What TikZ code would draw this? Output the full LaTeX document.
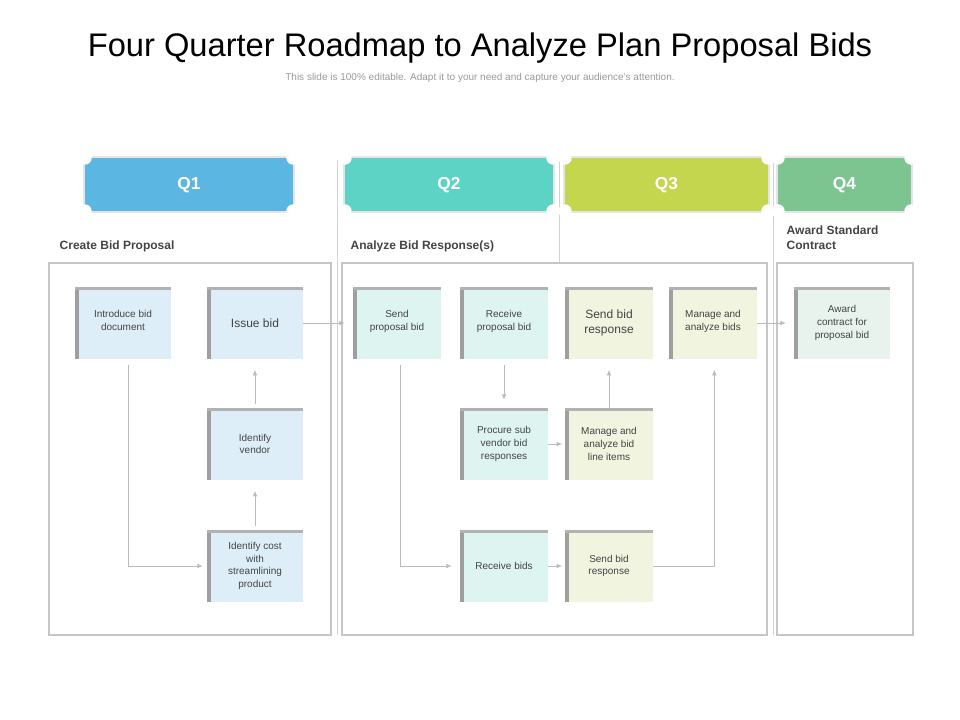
\documentclass[tikz,border=0pt]{standalone}
\usepackage{fontspec}
\setmainfont{Liberation Sans}
\usepackage{tikz}
\definecolor{qone}{HTML}{5BB7E2}
\definecolor{qtwo}{HTML}{5DD3C5}
\definecolor{qthree}{HTML}{C3D64E}
\definecolor{qfour}{HTML}{7DC590}
\definecolor{bone}{HTML}{DDEEF8}
\definecolor{btwo}{HTML}{DDF4F1}
\definecolor{bthree}{HTML}{F1F4DF}
\definecolor{bfour}{HTML}{E7F3EC}
\definecolor{txt}{HTML}{444444}
\definecolor{wire}{HTML}{BBBBBB}
\tikzset{
  task/.style={fill=#1, minimum width=72pt, minimum height=54pt, inner sep=2pt,
    align=center, font=\fontsize{7.5}{9.5}\selectfont, text=txt,
    path picture={
      \fill[gray!75] (path picture bounding box.north west) rectangle
        ([xshift=3pt]path picture bounding box.south west);
      \fill[gray!60] (path picture bounding box.north west) rectangle
        ([yshift=-2pt]path picture bounding box.north east);}},
  narrow/.style={minimum width=66pt},
  big/.style={font=\fontsize{9}{11}\selectfont},
  panel/.style={draw=gray!45, line width=0.8pt, fill=white},
  sect/.style={font=\bfseries\fontsize{9}{11}\selectfont, text=txt, anchor=west, align=left},
  link/.style={draw=wire, line width=0.6pt, -{Latex[length=4pt,width=3.5pt]}},
}
\usetikzlibrary{arrows.meta}
\newcommand{\qtab}[4]{% x1, x2, colour, label
  \fill[gray!20] (#1-2,156) rectangle (#2+2,213);
  \fill[#3] (#1,158) rectangle (#2,211);
  \foreach \cx/\cy in {#1/158,#2/158,#1/211,#2/211}
    \fill[white] (\cx,\cy) circle (5pt);
  \node[text=white, font=\bfseries\fontsize{13}{15}\selectfont] (#4) at ({(#1+#2)/2},185) {#4};
}
\begin{document}
\begin{tikzpicture}[x=0.75pt, y=-0.75pt]
\useasboundingbox (0,0) rectangle (960,720);
% title
\node (title) at (480,48) {\fontsize{24.5}{28}\selectfont Four Quarter Roadmap to Analyze Plan Proposal Bids};
\node[text=gray!80, font=\fontsize{7.5}{9}\selectfont] (sub) at (480,78)
  {This slide is 100\% editable. Adapt it to your need and capture your audience’s attention.};
% separators
\foreach \x in {337,559,773} \draw[gray!35, line width=0.6pt] (\x,160) -- (\x,635);
% quarter tabs
\qtab{85}{293}{qone}{Q1}
\qtab{345}{553}{qtwo}{Q2}
\qtab{565}{768}{qthree}{Q3}
\qtab{778}{911}{qfour}{Q4}
% section labels
\node[sect] (s1) at (55,246) {Create Bid Proposal};
\node[sect] (s2) at (346,246) {Analyze Bid Response(s)};
\node[sect] (s4) at (782,238) {Award Standard\\Contract};
% panels
\draw[panel] (49,263) rectangle (331,635);
\draw[panel] (342,263) rectangle (767,635);
\draw[panel] (777,263) rectangle (913,635);
% Q1
\node[task=bone] (intro) at (123,323) {Introduce bid\\document\\[-6pt]};
\node[task=bone, big] (issue) at (255,323) {Issue bid};
\node[task=bone] (vendor) at (255,444) {Identify\\vendor};
\node[task=bone] (cost) at (255,566) {Identify cost\\with\\streamlining\\product};
% Q2
\node[task=btwo, narrow] (sendprop) at (397,323) {Send\\proposal bid\\[-6pt]};
\node[task=btwo, narrow] (recvprop) at (504,323) {Receive\\proposal bid\\[-6pt]};
\node[task=btwo, narrow] (procure) at (504,444) {Procure sub\\vendor bid\\responses};
\node[task=btwo, narrow] (recvbids) at (504,566) {Receive bids};
% Q3
\node[task=bthree, narrow, big] (sendresp) at (609,323) {Send bid\\response};
\node[task=bthree, narrow] (manage) at (713,323) {Manage and\\analyze bids\\[-6pt]};
\node[task=bthree, narrow] (lineitems) at (609,444) {Manage and\\analyze bid\\line items};
\node[task=bthree, narrow] (sendresp2) at (609,566) {Send bid\\response};
% Q4
\node[task=bfour] (award) at (842,323) {Award\\contract for\\proposal bid};
% links
\draw[link] ([xshift=4pt]intro.south |- 0,365) |- ([xshift=-3pt]cost.west);
\draw[link] ([yshift=3pt]cost.north) -- ([yshift=-8pt]vendor.south);
\draw[link] ([yshift=3pt]vendor.north) -- ([yshift=-8pt]issue.south);
\draw[link] (issue.east) -- ([xshift=-6pt]sendprop.west);
\draw[link] (400,365) |- ([xshift=-6pt]recvbids.west);
\draw[link] ([yshift=-4pt]recvprop.south) -- ([yshift=6pt]procure.north);
\draw[link] (procure.east) -- ([xshift=-2pt]lineitems.west);
\draw[link] (recvbids.east) -- ([xshift=-2pt]sendresp2.west);
\draw[link] (lineitems.north) -- ([yshift=-8pt]sendresp.south);
\draw[link] (sendresp2.east) -| ([xshift=1pt,yshift=-8pt]manage.south);
\draw[link] (manage.east) -- ([xshift=-6pt]award.west);
\end{tikzpicture}
\end{document}
